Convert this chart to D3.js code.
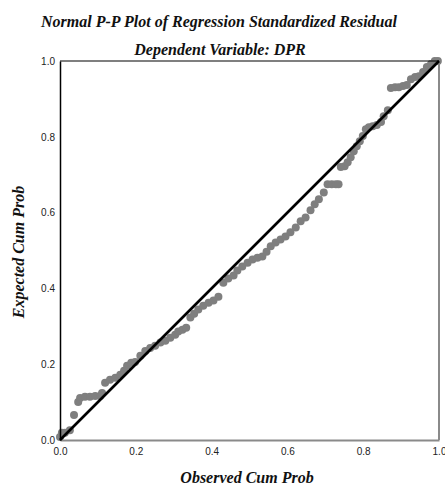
<!DOCTYPE html>
<html><head><meta charset="utf-8">
<script src="https://cdn.jsdelivr.net/npm/d3@7"></script>
<style>body{margin:0;background:#fff}svg{display:block}</style>
</head><body>
<script>
const titleText = "Normal P-P Plot of Regression Standardized Residual";
const subtitleText = "Dependent Variable: DPR";
const xLabel = "Observed Cum Prob";
const yLabel = "Expected Cum Prob";
const tickValues = [0, 0.2, 0.4, 0.6, 0.8, 1.0];

const observed = [0.000,0.005,0.013,0.026,0.037,0.048,0.053,0.066,0.079,0.093,0.106,0.111,0.119,0.132,0.146,0.159,0.169,0.177,0.188,0.198,
0.212,0.225,0.238,0.251,0.265,0.278,0.291,0.304,0.312,0.323,0.333,0.344,0.354,0.365,0.378,0.392,0.405,0.418,0.431,0.444,
0.458,0.468,0.481,0.495,0.508,0.521,0.534,0.545,0.556,0.569,0.582,0.595,0.608,0.622,0.635,0.648,0.661,0.672,0.683,0.696,
0.706,0.717,0.728,0.735,0.741,0.751,0.759,0.767,0.775,0.783,0.791,0.799,0.807,0.815,0.825,0.836,0.847,0.854,0.865,0.873,
0.884,0.894,0.905,0.915,0.926,0.937,0.947,0.958,0.968,0.979,0.989,0.997];
const expected = [0.008,0.019,0.019,0.026,0.066,0.100,0.111,0.114,0.114,0.116,0.116,0.124,0.151,0.159,0.164,0.172,0.183,0.196,0.204,0.206,
0.222,0.235,0.243,0.249,0.257,0.262,0.270,0.278,0.286,0.291,0.296,0.323,0.333,0.344,0.354,0.362,0.368,0.378,0.415,0.426,
0.434,0.447,0.458,0.468,0.476,0.481,0.484,0.497,0.511,0.521,0.529,0.537,0.548,0.561,0.577,0.587,0.606,0.622,0.635,0.653,
0.675,0.675,0.675,0.675,0.720,0.722,0.733,0.746,0.762,0.775,0.788,0.802,0.820,0.825,0.828,0.831,0.839,0.854,0.870,0.929,
0.931,0.931,0.934,0.937,0.952,0.958,0.960,0.971,0.984,0.992,1.000,1.000];

const W = 445, H = 487;
const svg = d3.select("body").append("svg").attr("width", W).attr("height", H);

const x = d3.scaleLinear().domain([0, 1]).range([60, 439]);
const y = d3.scaleLinear().domain([0, 1]).range([440, 61]);

const serif = "'Liberation Serif','Times New Roman',serif";
const sans = "'Liberation Sans',Arial,sans-serif";

function label(sel) {
  return sel.style("font-family", serif).style("font-weight", "bold").style("font-style", "italic")
    .style("font-size", "16px").attr("fill", "#111");
}

// titles
svg.append("text").attr("x", 219).attr("y", 27).attr("text-anchor", "middle").call(label).text(titleText);
svg.append("text").attr("x", 220).attr("y", 55).attr("text-anchor", "middle").call(label).text(subtitleText);

// points
svg.append("g").selectAll("circle").data(observed.map((o, i) => [o, expected[i]]))
  .join("circle").attr("cx", d => x(d[0])).attr("cy", d => y(d[1]))
  .attr("r", 4).attr("fill", "#7f7f7f");

// frame: top & right
svg.append("line").attr("x1", x(0)).attr("x2", x(1)).attr("y1", y(1)).attr("y2", y(1))
  .attr("stroke", "#000").attr("stroke-width", 1.2);
svg.append("line").attr("x1", x(1)).attr("x2", x(1)).attr("y1", y(1)).attr("y2", y(0))
  .attr("stroke", "#8a8a8a").attr("stroke-width", 2);

// axes
const xAxis = svg.append("g").attr("transform", `translate(0,${y(0)})`)
  .call(d3.axisBottom(x).tickValues(tickValues).tickFormat(d3.format(".1f")).tickSize(0).tickPadding(8));
xAxis.select(".domain").attr("stroke", "#8a8a8a").attr("stroke-width", 2);
xAxis.selectAll("text").style("font-family", sans).style("font-size", "10px").attr("fill", "#222");

const yAxis = svg.append("g").attr("transform", `translate(${x(0)},0)`)
  .call(d3.axisLeft(y).tickValues(tickValues).tickFormat(d3.format(".1f")).tickSize(0).tickPadding(5));
yAxis.select(".domain").attr("stroke", "#000").attr("stroke-width", 1.5);
yAxis.selectAll("text").style("font-family", sans).style("font-size", "10px").attr("fill", "#222");

// diagonal reference line
svg.append("line").attr("x1", x(0)).attr("y1", y(0)).attr("x2", x(1)).attr("y2", y(1))
  .attr("stroke", "#000").attr("stroke-width", 2.6);

// axis labels
svg.append("text").attr("x", 247).attr("y", 483).attr("text-anchor", "middle").call(label).text(xLabel);
svg.append("text").attr("transform", "translate(24,252) rotate(-90)").attr("text-anchor", "middle")
  .call(label).text(yLabel);
</script>
</body></html>
